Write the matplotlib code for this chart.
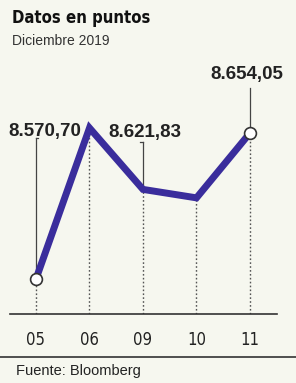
import matplotlib
matplotlib.use("Agg")
import matplotlib.pyplot as plt
from matplotlib.lines import Line2D

# data
days = ["05", "06", "09", "10", "11"]
points = [8570.70, 8656.9, 8621.83, 8617.0, 8654.05]
labels = {0: "8.570,70", 2: "8.621,83", 4: "8.654,05"}

W, H = 296, 383
DPI = 100
SANS = ["Liberation Sans", "DejaVu Sans"]
BG = "#f6f7ef"
LINE = "#3a2d9c"
INK = "#222222"

fig = plt.figure(figsize=(W / DPI, H / DPI), dpi=DPI, facecolor=BG)

# axes box in pixels: left, top, right, bottom
L, T, R, B = 10, 60, 277, 314
ax = fig.add_axes([L / W, (H - B) / H, (R - L) / W, (B - T) / H])
ax.set_facecolor("none")

x = list(range(len(days)))
ax.set_xlim(-0.486, 4.505)
ymin, ymax = 8550.7, 8695.7
ax.set_ylim(ymin, ymax)
px = (ymax - ymin) / (B - T)  # data units per pixel

# dotted drop lines to the axis
for xi, v in zip(x, points):
    ax.plot([xi, xi], [ymin, v], ls=(0, (1.2, 1.6)), lw=1.0, color="#555555",
            zorder=1)

ax.plot(x, points, color=LINE, lw=5, solid_joinstyle="miter",
        solid_capstyle="butt", zorder=3)

# labels with leader lines (offsets in pixels: label dx, label dy, leader length, hook)
offsets = {0: (9, 147, 141, 2), 2: (2, 57, 47, -3), 4: (-3, 58, 45, 0)}
for i, txt in labels.items():
    dx, dy, lead, hook = offsets[i]
    v = points[i]
    ax.plot([x[i], x[i]], [v, v + lead * px], color="#444444", lw=0.9, zorder=2)
    if hook:
        ax.plot([x[i], x[i] + hook / 53.5], [v + lead * px] * 2, color="#444444",
                lw=0.9, zorder=2)
    ax.text(x[i] + dx / 53.5, v + dy * px, txt, ha="center", va="center",
            fontsize=13.5, fontweight="bold", family=SANS, color=INK, zorder=4)

for i in (0, 4):
    ax.plot(x[i], points[i], "o", ms=8.5, mfc="white", mec="#333333", mew=1.2,
            zorder=5)

for s in ("top", "left", "right"):
    ax.spines[s].set_visible(False)
ax.spines["bottom"].set_color("#333333")
ax.spines["bottom"].set_linewidth(1.2)
ax.set_yticks([])
ax.set_xticks(x)
ax.set_xticklabels(days, fontsize=12, family="DejaVu Sans", fontstretch="condensed",
                   color=INK)
ax.tick_params(axis="x", length=0, pad=12)

fig.add_artist(Line2D([0, 1], [(H - 357) / H] * 2, color="#333333", lw=1.2))

fig.text(12 / W, (H - 23) / H, "Datos en puntos", fontsize=12, fontweight="bold",
         family="DejaVu Sans", fontstretch="condensed", color="#111111",
         va="baseline")
fig.text(12 / W, (H - 45) / H, "Diciembre 2019", fontsize=10, family=SANS,
         color="#333333", va="baseline")
fig.text(16 / W, (H - 375) / H, "Fuente: Bloomberg", fontsize=10.5, family=SANS,
         color="#222222", va="baseline")

fig.savefig("out.png", dpi=DPI, facecolor=BG)
